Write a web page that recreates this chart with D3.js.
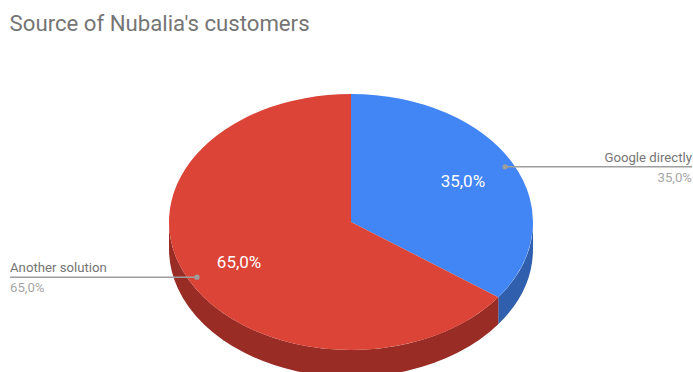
<!DOCTYPE html>
<html>
<head>
<meta charset="utf-8">
<script src="https://cdn.jsdelivr.net/npm/d3@7/dist/d3.min.js"></script>
<style>
html, body { margin: 0; padding: 0; background: #fff; overflow: hidden; }
svg { display: block; font-family: Roboto, sans-serif; }
</style>
</head>
<body>
<svg id="chart" width="693" height="372"></svg>
<script>
const chartTitle = "Source of Nubalia's customers";
const categories = ["Google directly", "Another solution"];
const shares = [35, 65];
const topColors = ["#4285f4", "#db4437"];
const wallColors = ["#2f5fad", "#992c25"];

const width = 693, height = 372;
const cx = 351, cy = 222, rx = 182, ry = 128, depth = 27;
const percent = v => v.toFixed(1).replace(".", ",") + "%";

const svg = d3.select("#chart").attr("viewBox", [0, 0, width, height]);

svg.append("text")
  .attr("x", 9.6).attr("y", 31)
  .attr("font-size", 22.2).attr("fill", "#757575")
  .text(chartTitle);

const slices = d3.pie().sort(null).value(d => d)(shares);
const flatArc = d3.arc().innerRadius(0).outerRadius(rx);

// Screen position of a clock angle on the tilted disc, at a fraction of its radius.
const onDisc = (angle, frac = 1, dy = 0) => [
  cx + rx * frac * Math.sin(angle),
  cy + ry * frac * -Math.cos(angle) + dy
];

// The rim is only visible on the near half of the disc.
const wallPath = s => {
  const a0 = Math.max(s.startAngle, Math.PI / 2);
  const a1 = Math.min(s.endAngle, Math.PI * 1.5);
  if (a1 <= a0) return null;
  const p0 = onDisc(a0), p1 = onDisc(a1);
  const q0 = onDisc(a0, 1, depth), q1 = onDisc(a1, 1, depth);
  const large = a1 - a0 > Math.PI ? 1 : 0;
  return `M${p0}A${rx},${ry} 0 ${large} 1 ${p1}L${q1}A${rx},${ry} 0 ${large} 0 ${q0}Z`;
};

svg.append("g").selectAll("path")
  .data(slices)
  .join("path")
  .attr("d", wallPath)
  .attr("fill", (d, i) => wallColors[i]);

svg.append("g")
  .attr("transform", `translate(${cx},${cy}) scale(1,${ry / rx})`)
  .selectAll("path")
  .data(slices)
  .join("path")
  .attr("d", flatArc)
  .attr("fill", (d, i) => topColors[i]);

const midAngle = s => (s.startAngle + s.endAngle) / 2;

// Values printed on the slices.
svg.append("g").selectAll("text")
  .data(slices)
  .join("text")
  .attr("x", d => onDisc(midAngle(d), 0.69)[0])
  .attr("y", d => onDisc(midAngle(d), 0.69)[1] + 5.5)
  .attr("text-anchor", "middle")
  .attr("font-size", 17)
  .attr("fill", "#fff")
  .text(d => percent(d.value));

// Leader lines with their category and value captions.
const leaderEdges = [692, 10];
const anchors = ["end", "start"];
const leaders = svg.append("g").selectAll("g")
  .data(slices)
  .join("g");

leaders.append("line")
  .attr("x1", d => onDisc(midAngle(d), 0.95)[0])
  .attr("x2", (d, i) => leaderEdges[i])
  .attr("y1", d => onDisc(midAngle(d), 0.95)[1])
  .attr("y2", d => onDisc(midAngle(d), 0.95)[1])
  .attr("stroke", "#9e9e9e")
  .attr("stroke-width", 1.6);

leaders.append("circle")
  .attr("cx", d => onDisc(midAngle(d), 0.95)[0])
  .attr("cy", d => onDisc(midAngle(d), 0.95)[1])
  .attr("r", 2.6)
  .attr("fill", "#9e9e9e");

leaders.append("text")
  .attr("x", (d, i) => leaderEdges[i])
  .attr("y", d => onDisc(midAngle(d), 0.95)[1] - 5)
  .attr("text-anchor", (d, i) => anchors[i])
  .attr("font-size", 13.2)
  .attr("fill", "#757575")
  .text((d, i) => categories[i]);

leaders.append("text")
  .attr("x", (d, i) => leaderEdges[i])
  .attr("y", d => onDisc(midAngle(d), 0.95)[1] + 15)
  .attr("text-anchor", (d, i) => anchors[i])
  .attr("font-size", 13.2)
  .attr("fill", "#a6a6a6")
  .text(d => percent(d.value));
</script>
</body>
</html>
